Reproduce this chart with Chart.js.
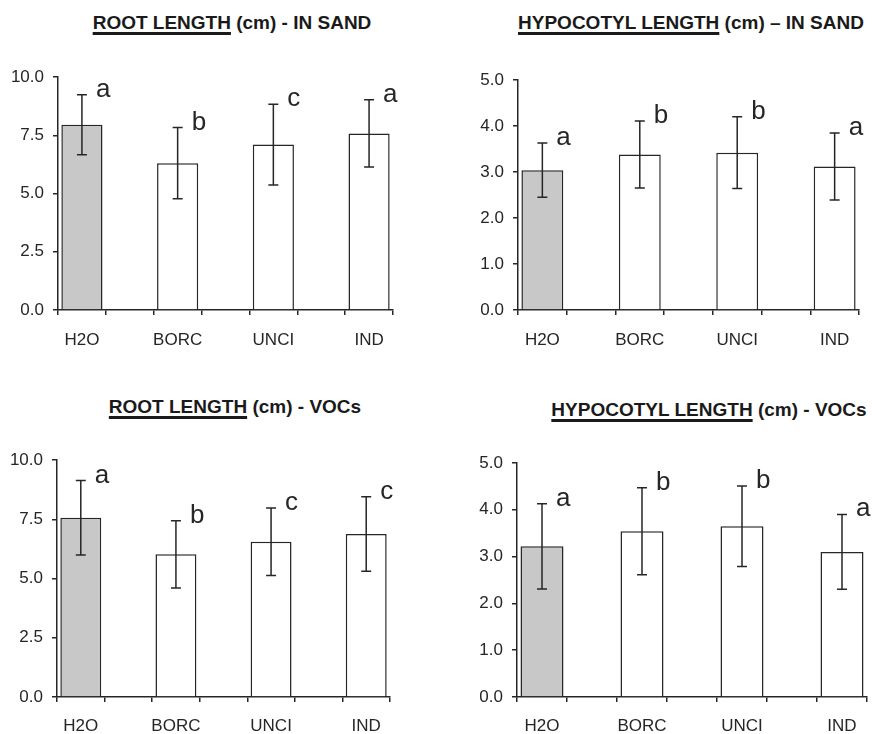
<!DOCTYPE html>
<html><head><meta charset="utf-8">
<script src="https://cdn.jsdelivr.net/npm/chart.js@4/dist/chart.umd.min.js"></script>
<style>
html,body{margin:0;padding:0;background:#fff;width:872px;height:734px;overflow:hidden;}
canvas{position:absolute;}
.title{position:absolute;width:440px;text-align:center;font:bold 19px "Liberation Sans",Arial,sans-serif;line-height:22px;color:#1a1a1a;white-space:nowrap;}
.title u{text-decoration-thickness:3px;text-underline-offset:3px;}
</style></head><body>
<div class="title" style="left:12px;top:12px;"><u>ROOT LENGTH</u> (cm) - IN SAND</div>
<div class="title" style="left:471px;top:12px;"><u>HYPOCOTYL LENGTH</u> (cm) – IN SAND</div>
<div class="title" style="left:15px;top:396px;"><u>ROOT LENGTH</u> (cm) - VOCs</div>
<div class="title" style="left:489px;top:399px;"><u>HYPOCOTYL LENGTH</u> (cm) - VOCs</div>
<canvas id="c1" width="400" height="320" style="left:0px;top:40px;"></canvas>
<canvas id="c2" width="432" height="320" style="left:440px;top:40px;"></canvas>
<canvas id="c3" width="400" height="304" style="left:0px;top:430px;"></canvas>
<canvas id="c4" width="432" height="304" style="left:440px;top:430px;"></canvas>
<script>
const categories = ['H2O', 'BORC', 'UNCI', 'IND'];

const rootSandMeans = [7.95, 6.30, 7.10, 7.58];
const rootSandErr = [1.29, 1.53, 1.73, 1.44];
const rootSandLetters = ['a', 'b', 'c', 'a'];

const hypoSandMeans = [3.04, 3.38, 3.42, 3.12];
const hypoSandErr = [0.59, 0.73, 0.78, 0.73];
const hypoSandLetters = ['a', 'b', 'b', 'a'];

const rootVocMeans = [7.56, 6.02, 6.55, 6.88];
const rootVocErr = [1.57, 1.42, 1.42, 1.57];
const rootVocLetters = ['a', 'b', 'c', 'c'];

const hypoVocMeans = [3.22, 3.54, 3.65, 3.10];
const hypoVocErr = [0.91, 0.93, 0.86, 0.80];
const hypoVocLetters = ['a', 'b', 'b', 'a'];

const rootAxisMax = 10, rootAxisStep = 2.5;
const hypoAxisMax = 5, hypoAxisStep = 1;

const FONT = '"Liberation Sans", Arial, sans-serif';
const INK = '#262626';

function slots(arr, filler) {
  const out = [];
  arr.forEach((v, i) => { out.push(v); if (i < arr.length - 1) out.push(filler); });
  return out;
}

const errPlugin = {
  id: 'errLetters',
  afterDatasetsDraw(chart) {
    const o = chart.options.plugins.errLetters;
    const ys = chart.scales.y;
    const meta = chart.getDatasetMeta(0);
    const ctx = chart.ctx;
    ctx.save();
    ctx.strokeStyle = INK;
    ctx.lineWidth = 1.5;
    o.means.forEach((m, i) => {
      const bar = meta.data[i * 2];
      const x = bar.x;
      const yt = ys.getPixelForValue(m + o.err[i]);
      const yb = ys.getPixelForValue(m - o.err[i]);
      ctx.beginPath();
      ctx.moveTo(x, yt); ctx.lineTo(x, yb);
      ctx.moveTo(x - 5, yt); ctx.lineTo(x + 5, yt);
      ctx.moveTo(x - 5, yb); ctx.lineTo(x + 5, yb);
      ctx.stroke();
      ctx.fillStyle = INK;
      ctx.font = '26px ' + FONT;
      ctx.textAlign = 'left';
      ctx.textBaseline = 'alphabetic';
      ctx.fillText(o.letters[i], x + 14, yt + 2);
    });
    ctx.restore();
  }
};

function makeChart(id, means, err, letters, max, step, yw, xh, xpad, pad) {
  new Chart(document.getElementById(id), {
    type: 'bar',
    data: {
      labels: slots(categories, ''),
      datasets: [{
        data: slots(means, null),
        backgroundColor: slots(means.map((v, i) => i === 0 ? '#c8c8c8' : '#ffffff'), '#ffffff'),
        borderColor: INK,
        borderWidth: 1.5,
        barPercentage: 0.86,
        categoryPercentage: 1.0
      }]
    },
    options: {
      responsive: false,
      animation: false,
      layout: { padding: pad },
      plugins: {
        legend: { display: false },
        tooltip: { enabled: false },
        errLetters: { means: means, err: err, letters: letters }
      },
      scales: {
        x: {
          grid: { display: true, drawOnChartArea: false, drawTicks: true, tickLength: 5, color: INK, lineWidth: 1.5, offset: true },
          border: { display: true, color: INK, width: 1.5 },
          ticks: { autoSkip: false, maxRotation: 0, padding: xpad, color: INK, font: { family: FONT, size: 17 } },
          afterFit(s) { s.height = xh; }
        },
        y: {
          min: 0, max: max,
          grid: { display: true, drawOnChartArea: false, drawTicks: true, tickLength: 5, color: INK, lineWidth: 1.5 },
          border: { display: true, color: INK, width: 1.5 },
          ticks: { stepSize: step, padding: 9, color: INK, font: { family: FONT, size: 17 }, callback: v => Number(v).toFixed(1) },
          afterFit(s) { s.width = yw; }
        }
      }
    },
    plugins: [errPlugin]
  });
}

makeChart('c1', rootSandMeans, rootSandErr, rootSandLetters, rootAxisMax, rootAxisStep, 58, 50, 15, { left: 0, right: 7, top: 37, bottom: 0 });
makeChart('c2', hypoSandMeans, hypoSandErr, hypoSandLetters, hypoAxisMax, hypoAxisStep, 78, 50, 15, { left: 0, right: 13, top: 40, bottom: 0 });
makeChart('c3', rootVocMeans, rootVocErr, rootVocLetters, rootAxisMax, rootAxisStep, 57, 37, 14, { left: 0, right: 10, top: 30, bottom: 0 });
makeChart('c4', hypoVocMeans, hypoVocErr, hypoVocLetters, hypoAxisMax, hypoAxisStep, 77, 37, 14, { left: 0, right: 5, top: 33, bottom: 0 });
</script>
</body></html>
